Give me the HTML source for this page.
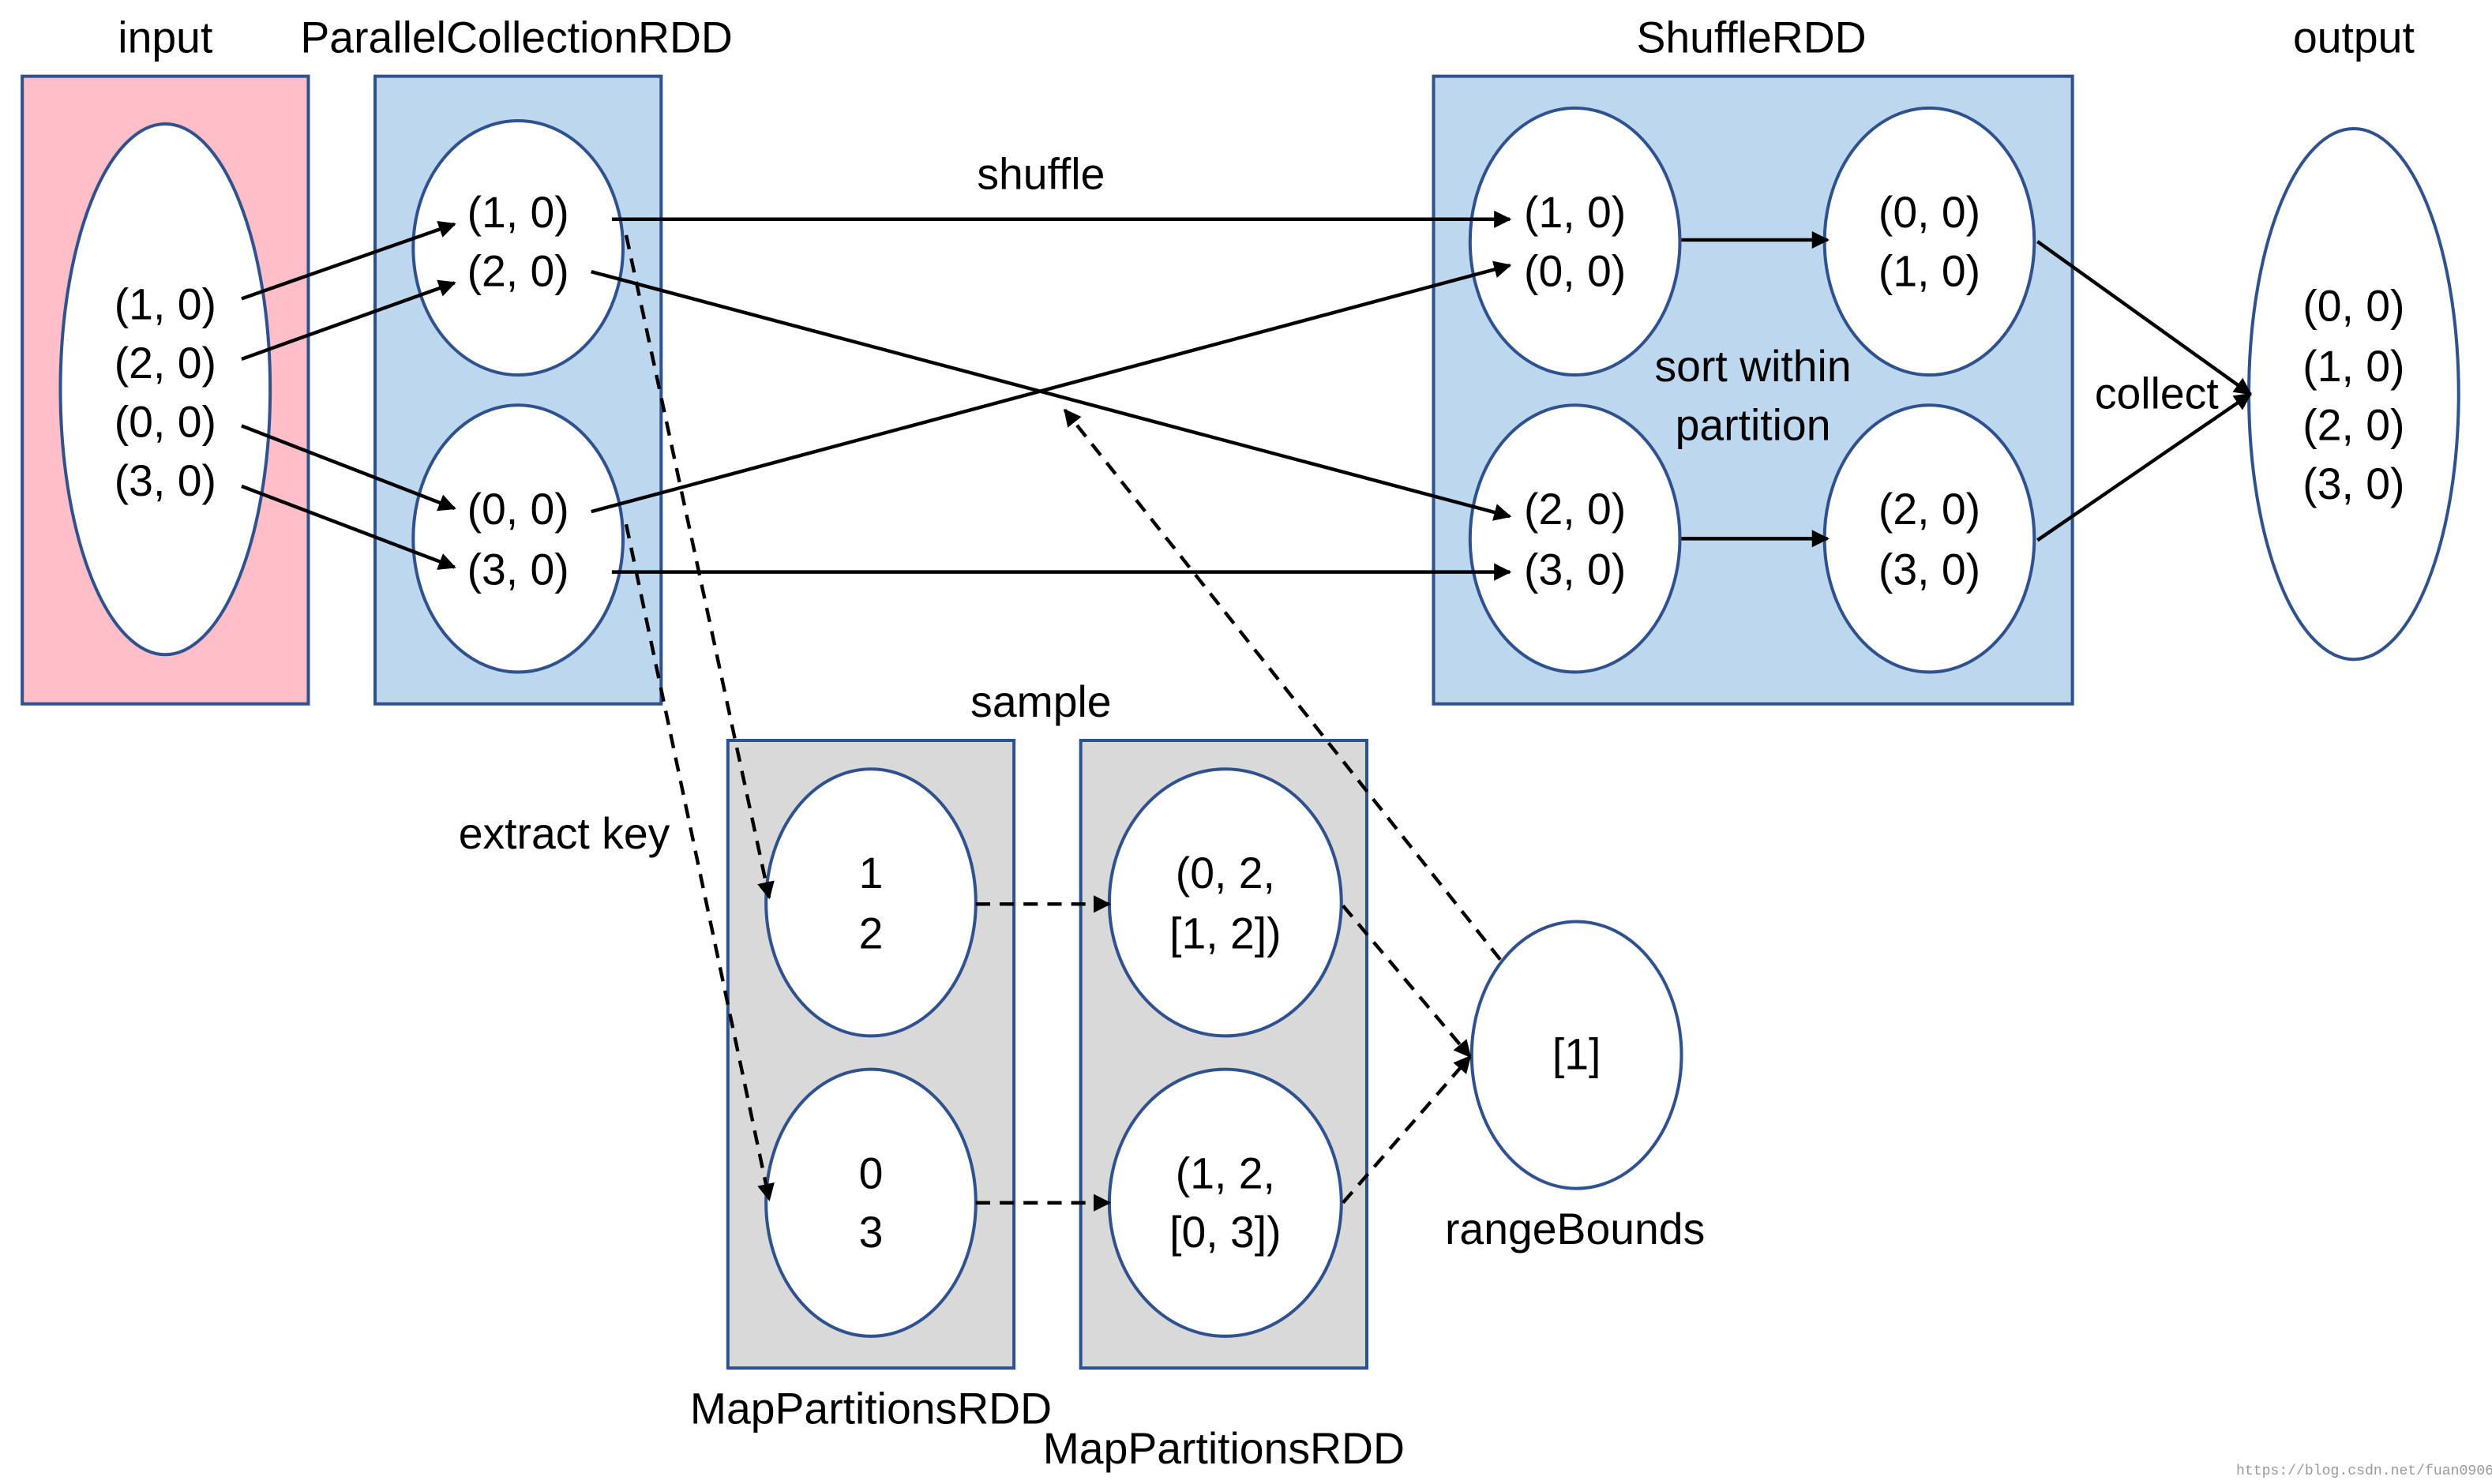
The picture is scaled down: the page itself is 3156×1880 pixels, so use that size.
<!DOCTYPE html>
<html><head><meta charset="utf-8"><style>
html,body{margin:0;padding:0;background:#fff;}
svg{display:block;}
text{font-family:"Liberation Sans",sans-serif;font-size:27.5px;fill:#000;text-anchor:middle;}
</style></head><body>
<svg width="3156" height="1880" viewBox="0 0 1568 934" preserveAspectRatio="none" xmlns="http://www.w3.org/2000/svg">
<defs>
<marker id="a" viewBox="0 0 10 10" refX="9" refY="5" markerWidth="5" markerHeight="5" orient="auto"><path d="M0,0 L10,5 L0,10 z" fill="#000"/></marker>
</defs>
<g stroke="#2f528f" stroke-width="2">
<rect x="14" y="48" width="180" height="395" fill="#ffbec8"/>
<rect x="236" y="48" width="180" height="395" fill="#bdd7ee"/>
<rect x="902" y="48" width="402" height="395" fill="#bdd7ee"/>
<rect x="458" y="466" width="180" height="395" fill="#d9d9d9"/>
<rect x="680" y="466" width="180" height="395" fill="#d9d9d9"/>
<g fill="#fff">
<ellipse cx="104" cy="245" rx="66" ry="167"/>
<ellipse cx="326" cy="156" rx="66" ry="80"/>
<ellipse cx="326" cy="339" rx="66" ry="84"/>
<ellipse cx="991" cy="152" rx="66" ry="84"/>
<ellipse cx="1214" cy="152" rx="66" ry="84"/>
<ellipse cx="991" cy="339" rx="66" ry="84"/>
<ellipse cx="1214" cy="339" rx="66" ry="84"/>
<ellipse cx="1481" cy="248" rx="66" ry="167"/>
<ellipse cx="548" cy="568" rx="66" ry="84"/>
<ellipse cx="548" cy="757" rx="66" ry="84"/>
<ellipse cx="771" cy="568" rx="73" ry="84"/>
<ellipse cx="771" cy="757" rx="73" ry="84"/>
<ellipse cx="992" cy="664" rx="66" ry="84"/>
</g></g>
<g stroke="#000" stroke-width="2.2" fill="none" marker-end="url(#a)">
<line x1="152" y1="188" x2="286" y2="141"/>
<line x1="152" y1="226" x2="286" y2="178"/>
<line x1="152" y1="268" x2="286" y2="320"/>
<line x1="152" y1="306" x2="286" y2="357"/>
<line x1="385" y1="138" x2="950" y2="138"/>
<line x1="372" y1="171" x2="950" y2="325"/>
<line x1="372" y1="322" x2="950" y2="167"/>
<line x1="385" y1="360" x2="950" y2="360"/>
<line x1="1058" y1="151" x2="1150" y2="151"/>
<line x1="1058" y1="339" x2="1150" y2="339"/>
<line x1="1282" y1="152" x2="1416" y2="248"/>
<line x1="1282" y1="340" x2="1416" y2="248"/>
<g stroke-dasharray="9,6">
<line x1="394" y1="148" x2="484" y2="565"/>
<line x1="394" y1="330" x2="484" y2="755"/>
<line x1="614" y1="569" x2="698" y2="569"/>
<line x1="614" y1="757" x2="698" y2="757"/>
<line x1="845" y1="570" x2="925" y2="665"/>
<line x1="845" y1="757" x2="925" y2="665"/>
<line x1="944" y1="604" x2="670" y2="258"/>
</g></g>
<g>
<text x="104" y="33">input</text>
<text x="325" y="33">ParallelCollectionRDD</text>
<text x="1102" y="33">ShuffleRDD</text>
<text x="1481" y="33">output</text>
<text x="655" y="119">shuffle</text>
<text x="655" y="451">sample</text>
<text x="355" y="534">extract key</text>
<text x="1103" y="240">sort within</text>
<text x="1103" y="277">partition</text>
<text x="1357" y="257">collect</text>
<text x="104" y="201">(1, 0)</text><text x="104" y="238">(2, 0)</text><text x="104" y="275">(0, 0)</text><text x="104" y="312">(3, 0)</text>
<text x="326" y="143">(1, 0)</text><text x="326" y="180">(2, 0)</text>
<text x="326" y="330">(0, 0)</text><text x="326" y="368">(3, 0)</text>
<text x="991" y="143">(1, 0)</text><text x="991" y="180">(0, 0)</text>
<text x="1214" y="143">(0, 0)</text><text x="1214" y="180">(1, 0)</text>
<text x="991" y="330">(2, 0)</text><text x="991" y="368">(3, 0)</text>
<text x="1214" y="330">(2, 0)</text><text x="1214" y="368">(3, 0)</text>
<text x="1481" y="202">(0, 0)</text><text x="1481" y="240">(1, 0)</text><text x="1481" y="277">(2, 0)</text><text x="1481" y="314">(3, 0)</text>
<text x="548" y="559">1</text><text x="548" y="597">2</text>
<text x="548" y="748">0</text><text x="548" y="785">3</text>
<text x="771" y="559">(0, 2,</text><text x="771" y="597">[1, 2])</text>
<text x="771" y="748">(1, 2,</text><text x="771" y="785">[0, 3])</text>
<text x="992" y="673">[1]</text>
<text x="991" y="783">rangeBounds</text>
<text x="548" y="896">MapPartitionsRDD</text>
<text x="770" y="921">MapPartitionsRDD</text>
<text x="1488" y="928" style="font-size:9px;fill:#999;font-family:'Liberation Mono',monospace">https://blog.csdn.net/fuan0906</text>
</g>
</svg>
</body></html>
